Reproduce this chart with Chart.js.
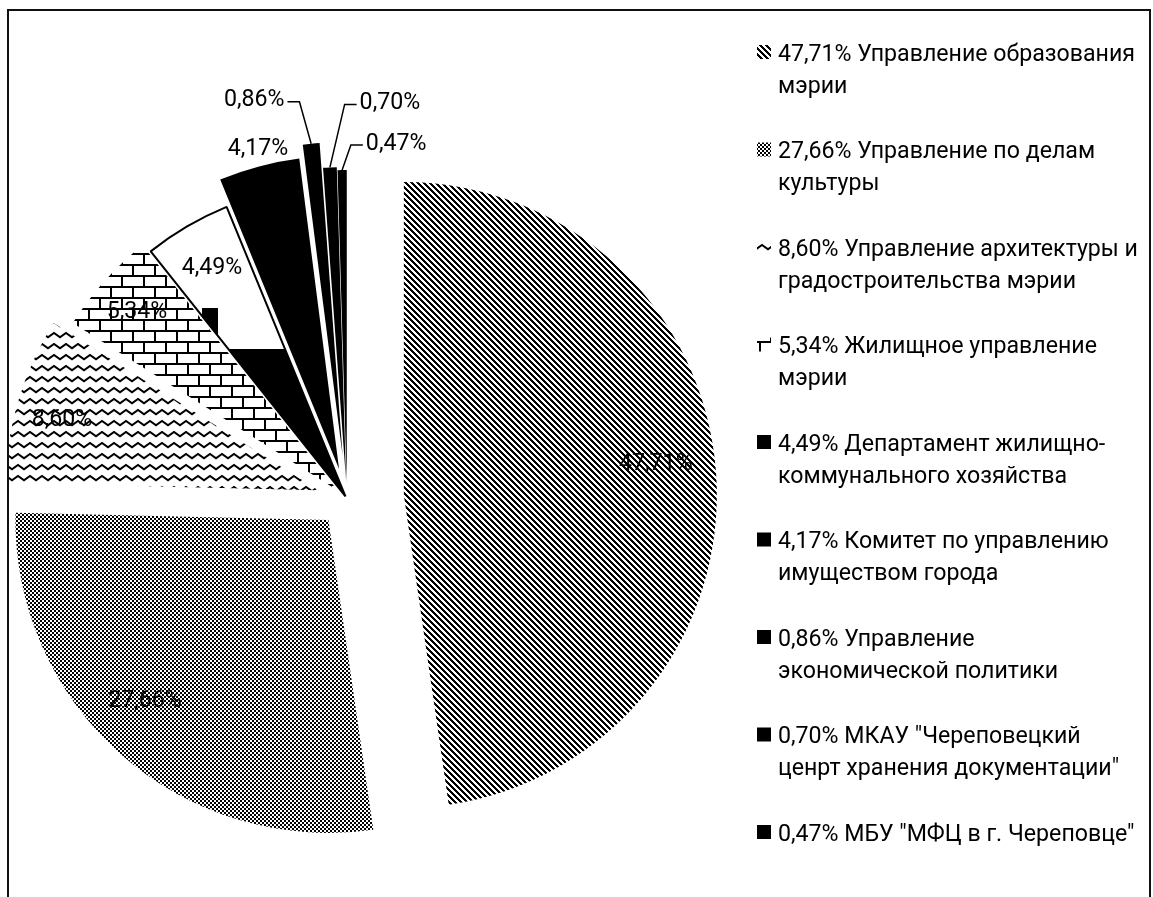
<!DOCTYPE html>
<html><head><meta charset="utf-8">
<script src="https://cdn.jsdelivr.net/npm/chart.js@4.4.1/dist/chart.umd.min.js"></script>
<style>html,body{margin:0;padding:0;background:#fff;overflow:hidden}</style>
</head><body>
<canvas id="c" width="1153" height="897"></canvas>
<script>
// ---------- DATA ----------
const categories = [
  'Управление образования\nмэрии',
  'Управление по делам\nкультуры',
  'Управление архитектуры и\nградостроительства мэрии',
  'Жилищное управление\nмэрии',
  'Департамент жилищно-\nкоммунального хозяйства',
  'Комитет по управлению\nимуществом города',
  'Управление\nэкономической политики',
  'МКАУ "Череповецкий\nценрт хранения документации"',
  'МБУ "МФЦ в г. Череповце"'
];
const values = [47.71, 27.66, 8.60, 5.34, 4.49, 4.17, 0.86, 0.70, 0.47];

// ---------- STYLE ----------
const FONT_FAMILY = 'Roboto';
const explode = [57, 28, 30, 13, 3, 31, 44, 19, 16];
const borderW = [0, 0, 0, 0, 2, 0, 0, 0, 0];
const insideLabel = {0:{t:0.48,f:0.812},1:{t:0.543,f:0.817},2:{t:0.466,f:0.851},3:{t:0.505,f:0.861},4:{t:0.52,f:0.851}};
const outsideLabel = {5:{dx:-1,dy:-20},6:{dx:-57,dy:-46,side:'left'},7:{dx:60,dy:-67,side:'right'},8:{dx:54,dy:-29,side:'right'}};

const canvas = document.getElementById('c');
const ctx = canvas.getContext('2d');
const W = canvas.width, H = canvas.height;

function fmt(v){ return v.toFixed(2).replace('.', ',') + '%'; }

function tile(w, h, draw){
  const c = document.createElement('canvas'); c.width = w; c.height = h;
  const g = c.getContext('2d');
  g.fillStyle = '#fff'; g.fillRect(0,0,w,h);
  g.fillStyle = '#000'; g.strokeStyle = '#000';
  draw(g, w, h);
  return c;
}
const diagTile = tile(6, 6, g => { for (let y=0;y<6;y++) for (let x=0;x<6;x++) if ((((x-y)%6)+6)%6 < 3) g.fillRect(x,y,1,1); });
const checkTile = tile(4, 4, g => { g.fillRect(0,0,2,2); g.fillRect(2,2,2,2); });
const waveTile = tile(12, 11, g => { g.lineWidth = 2; g.beginPath(); g.moveTo(-1,8); g.lineTo(6,3); g.lineTo(13,8); g.stroke(); });
const brickTile = tile(22, 22, g => { g.fillRect(0,0,22,2); g.fillRect(0,11,22,2); g.fillRect(0,0,2,11); g.fillRect(11,11,2,11); });
const odd449 = tile(W, H, g => { g.fillRect(0,349,W,H-349); g.fillRect(202,308,16,42); });

const pat = c => ctx.createPattern(c, 'repeat');
const fills = [pat(diagTile), pat(checkTile), pat(waveTile), pat(brickTile), ctx.createPattern(odd449,'no-repeat'), '#000', '#000', '#000', '#000'];

let FONT_SIZE = 22;
(function setFont(){
  ctx.font = '100px "' + FONT_FAMILY + '"';
  const w = ctx.measureText('5,34% Жилищное управление').width;
  FONT_SIZE = 100 * 319 / w;
})();

const explodePlugin = {
  id: 'explode',
  afterDatasetUpdate(chart, args){
    args.meta.data.forEach((arc, i) => {
      const mid = (arc.startAngle + arc.endAngle) / 2;
      arc.x += Math.cos(mid) * explode[i];
      arc.y += Math.sin(mid) * explode[i];
    });
  }
};

const labelPlugin = {
  id: 'labels',
  afterDatasetsDraw(chart){
    const c = chart.ctx;
    const meta = chart.getDatasetMeta(0);
    c.save();
    c.font = FONT_SIZE.toFixed(2) + 'px "' + FONT_FAMILY + '"';
    c.fillStyle = '#000'; c.textAlign = 'center'; c.textBaseline = 'alphabetic';
    const ch = c.measureText('0').actualBoundingBoxAscent;
    meta.data.forEach((arc, i) => {
      const txt = fmt(values[i]);
      const R = arc.outerRadius;
      let lx, ly;
      if (insideLabel[i]) {
        const p = insideLabel[i];
        const a = arc.startAngle + p.t * (arc.endAngle - arc.startAngle);
        lx = arc.x + Math.cos(a) * R * p.f; ly = arc.y + Math.sin(a) * R * p.f;
      } else {
        const p = outsideLabel[i];
        const mid = (arc.startAngle + arc.endAngle) / 2;
        const ox = arc.x + Math.cos(mid) * R, oy = arc.y + Math.sin(mid) * R;
        lx = ox + p.dx; ly = oy + p.dy;
        if (p.side) {
          const w = c.measureText(txt).width;
          const sgn = p.side === 'left' ? 1 : -1;
          c.beginPath(); c.lineWidth = 1.5; c.strokeStyle = '#000';
          c.moveTo(lx + sgn*(w/2+3), ly + 4);
          c.lineTo(lx + sgn*(w/2+15), ly + 4);
          c.lineTo(ox, oy);
          c.stroke();
        }
      }
      c.fillText(txt, lx, ly + ch/2);
    });
    c.restore();
  }
};

const legendPlugin = {
  id: 'sideLegend',
  afterDraw(chart){
    const c = chart.ctx;
    c.save();
    c.font = FONT_SIZE.toFixed(2) + 'px "' + FONT_FAMILY + '"';
    c.fillStyle = '#000'; c.textAlign = 'left'; c.textBaseline = 'alphabetic';
    const ch = c.measureText('0').actualBoundingBoxAscent;
    const top = 52, pitch = 97.5, lineH = 32, textX = 778, boxX = 757, box = 14;
    categories.forEach((name, i) => {
      const lines = name.split('\n');
      lines[0] = fmt(values[i]) + ' ' + lines[0];
      const y0 = top + i * pitch;
      c.fillStyle = i === 4 ? '#000' : fills[i];
      c.fillRect(boxX, y0 - box/2, box, box);
      c.fillStyle = '#000';
      lines.forEach((ln, k) => c.fillText(ln, textX, y0 + k * lineH + ch/2));
    });
    // chart frame
    c.strokeStyle = '#111'; c.lineWidth = 2;
    c.strokeRect(8, 10, 1142, H + 20);
    c.restore();
  }
};

new Chart(canvas, {
  type: 'pie',
  data: {
    labels: categories.map(s => s.replace('\n', ' ')),
    datasets: [{
      data: values,
      backgroundColor: fills,
      borderColor: '#000',
      borderWidth: borderW,
      radius: 313,
      hoverOffset: 0,
      clip: {left: 0, top: false, right: false, bottom: false}
    }]
  },
  options: {
    responsive: false,
    animation: false,
    events: [],
    layout: { padding: { left: 8, right: W - 686, top: 101, bottom: 0 } },
    plugins: { legend: { display: false }, tooltip: { enabled: false } }
  },
  plugins: [explodePlugin, labelPlugin, legendPlugin]
});
</script>
</body></html>
